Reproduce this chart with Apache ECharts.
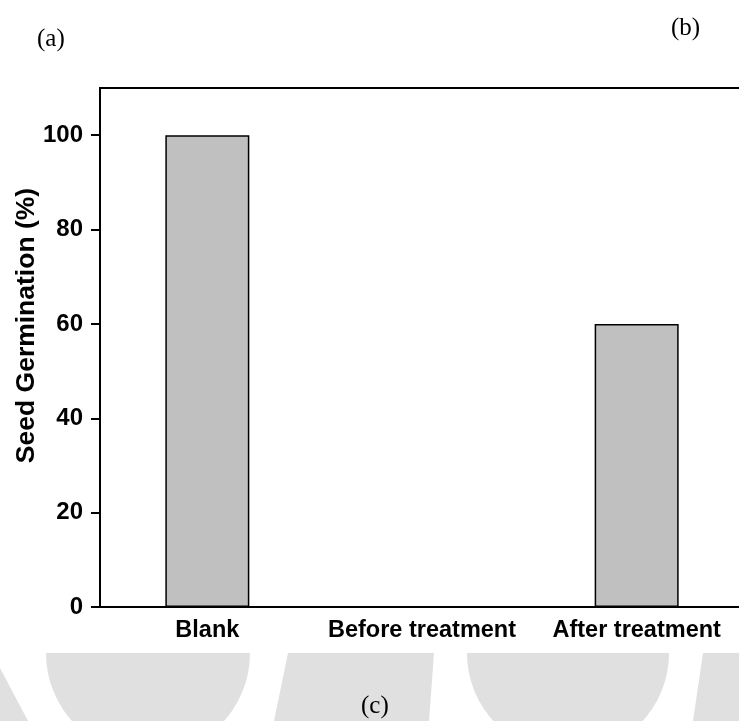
<!DOCTYPE html>
<html><head><meta charset="utf-8">
<script src="https://cdn.jsdelivr.net/npm/echarts@6/dist/echarts.min.js"></script>
<style>html,body{margin:0;padding:0;background:#fff}#c{width:739px;height:721px}</style>
</head><body><div id="c"></div>
<script>
const categories = ['Blank', 'Before treatment', 'After treatment'];
const germination = [100, 0, 60];
const yMin = 0, yMax = 110, yInterval = 20;
const yAxisName = 'Seed Germination (%)';
const panelLabels = ['(a)', '(b)', '(c)'];

const chart = echarts.init(document.getElementById('c'), null, {renderer: 'canvas'});
const wm = '#e0e0e0';
chart.setOption({
  backgroundColor: '#fff',
  animation: false,
  grid: {left: 100, top: 88, width: 644, bottom: 114, show: true, borderColor: '#000', borderWidth: 2,
         backgroundColor: 'transparent', outerBoundsMode: 'none', containLabel: false},
  xAxis: {
    type: 'category', data: categories,
    axisLine: {lineStyle: {color: '#000', width: 2}},
    axisTick: {show: false},
    axisLabel: {color: '#000', fontFamily: 'Liberation Sans, Arial', fontWeight: 'bold', fontSize: 23.5, margin: 12,
                interval: 0, hideOverlap: false}
  },
  yAxis: {
    type: 'value', min: yMin, max: yMax, interval: yInterval,
    name: yAxisName, nameLocation: 'middle', nameGap: 60, nameMoveOverlap: false,
    nameTextStyle: {color: '#000', fontFamily: 'Liberation Sans, Arial', fontWeight: 'bold', fontSize: 26.5, padding: [0, 0, 0, 44]},
    axisLine: {show: true, lineStyle: {color: '#000', width: 2}},
    axisTick: {show: true, length: 9, lineStyle: {color: '#000', width: 2}},
    axisLabel: {color: '#000', fontFamily: 'Liberation Sans, Arial', fontWeight: 'bold', fontSize: 24, margin: 17, showMaxLabel: false},
    splitLine: {show: false}
  },
  series: [{
    type: 'bar', data: germination, barWidth: 84,
    itemStyle: {color: '#c0c0c0', borderColor: '#000', borderWidth: 1.5}
  }],
  graphic: [
    {type: 'sector', z: -10, silent: true, shape: {cx: 148, cy: 653, r: 102, r0: 0, startAngle: 0, endAngle: Math.PI}, style: {fill: wm}},
    {type: 'sector', z: -10, silent: true, shape: {cx: 568, cy: 653, r: 101, r0: 0, startAngle: 0, endAngle: Math.PI}, style: {fill: wm}},
    {type: 'polygon', z: -10, silent: true, shape: {points: [[288, 653], [434, 653], [429, 721], [274, 721]]}, style: {fill: wm}},
    {type: 'polygon', z: -10, silent: true, shape: {points: [[703, 653], [739, 653], [739, 721], [693, 721]]}, style: {fill: wm}},
    {type: 'polygon', z: -10, silent: true, shape: {points: [[0, 668], [28, 721], [0, 721]]}, style: {fill: wm}},
    {type: 'text', left: 37, top: 27, z: 10, style: {text: panelLabels[0], fill: '#000', font: '25px "Liberation Serif", "Times New Roman", serif'}},
    {type: 'text', left: 671, top: 16, z: 10, style: {text: panelLabels[1], fill: '#000', font: '25px "Liberation Serif", "Times New Roman", serif'}},
    {type: 'text', left: 361, top: 694, z: 10, style: {text: panelLabels[2], fill: '#000', font: '25px "Liberation Serif", "Times New Roman", serif'}}
  ]
});
</script></body></html>
